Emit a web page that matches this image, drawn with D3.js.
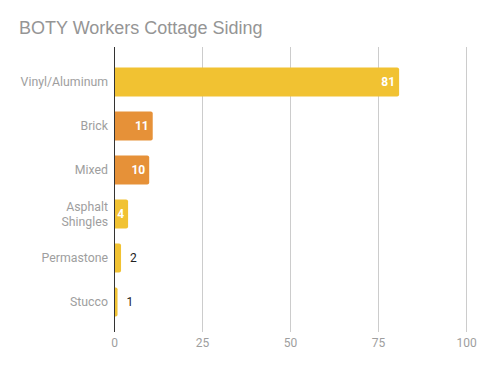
<!DOCTYPE html>
<html>
<head>
<meta charset="utf-8">
<script src="https://cdn.jsdelivr.net/npm/d3@7"></script>
<style>
  body { margin: 0; background: #fff; }
  svg { font-family: Roboto, sans-serif; }
</style>
</head>
<body>
<div id="chart"></div>
<script>
// data
let categories = ['Vinyl/Aluminum', 'Brick', 'Mixed', 'Asphalt Shingles', 'Permastone', 'Stucco'];
let values = [81, 11, 10, 4, 2, 1];
let barColors = ['#f1c232', '#e69138', '#e69138', '#f1c232', '#f1c232', '#f1c232'];
let xTicks = [0, 25, 50, 75, 100];

let width = 485, height = 371;
let margin = { top: 60, right: 19, bottom: 47, left: 114 };

let svg = d3.select("#chart")
    .append("svg")
    .attr("width", width)
    .attr("height", height);

// title
svg.append("text")
    .attr("x", 19)
    .attr("y", 34)
    .style("font-family", "'Liberation Sans', Arial, sans-serif")
    .style("font-size", "18px")
    .style("fill", "#959595")
    .text("BOTY Workers Cottage Siding");

const x = d3.scaleLinear()
    .domain([0, 100])
    .range([margin.left, width - margin.right]);

const y = d3.scaleBand()
    .domain(categories)
    .range([margin.top, height - margin.bottom])
    .paddingInner(0.34)
    .paddingOuter(0.17);

// gridlines
svg.append("g")
    .selectAll("line")
    .data(xTicks.filter(d => d > 0))
    .enter().append("line")
    .attr("x1", d => Math.round(x(d)) + 0.5)
    .attr("x2", d => Math.round(x(d)) + 0.5)
    .attr("y1", 47)
    .attr("y2", 332)
    .attr("stroke", "#cccccc")
    .attr("stroke-width", 1);

// x tick labels
svg.append("g")
    .attr("transform", "translate(0,332)")
    .call(d3.axisBottom(x).tickValues(xTicks).tickSize(0).tickPadding(6))
    .call(g => g.select(".domain").remove())
    .selectAll("text")
    .style("font-size", "12px")
    .style("font-family", "Roboto, sans-serif")
    .style("fill", "#9e9e9e");

// bars
function barPath(d, i) {
    let x0 = x(0), x1 = x(d), y0 = y(categories[i]), h = y.bandwidth();
    let r = Math.min(2, (x1 - x0) / 2);
    return "M" + x0 + "," + y0 +
        "H" + (x1 - r) + "Q" + x1 + "," + y0 + " " + x1 + "," + (y0 + r) +
        "V" + (y0 + h - r) + "Q" + x1 + "," + (y0 + h) + " " + (x1 - r) + "," + (y0 + h) +
        "H" + x0 + "Z";
}

svg.append("g")
    .selectAll("path")
    .data(values)
    .enter().append("path")
    .attr("d", barPath)
    .attr("fill", (d, i) => barColors[i]);

// axis line at zero
svg.append("line")
    .attr("x1", Math.round(x(0)) + 0.5)
    .attr("x2", Math.round(x(0)) + 0.5)
    .attr("y1", 47)
    .attr("y2", 332)
    .attr("stroke", "#333333")
    .attr("stroke-width", 1);

// category labels
let yl = svg.append("g")
    .selectAll("text")
    .data(categories)
    .enter().append("text")
    .attr("x", 108)
    .attr("y", d => y(d) + y.bandwidth() / 2)
    .attr("text-anchor", "end")
    .style("font-size", "12.3px")
    .style("fill", "#9e9e9e");

yl.each(function(d) {
    let t = d3.select(this);
    let parts = d == 'Asphalt Shingles' ? ['Asphalt', 'Shingles'] : [d];
    let lh = 15;
    parts.forEach(function(p, k) {
        t.append("tspan")
            .attr("x", 108)
            .attr("dy", k == 0 ? ((-(parts.length - 1) * lh / 2) + 4) : lh)
            .text(p);
    });
});

// value labels
svg.append("g")
    .selectAll("text")
    .data(values)
    .enter().append("text")
    .attr("x", d => d >= 4 ? x(d) - 4 : x(d) + 9)
    .attr("y", (d, i) => y(categories[i]) + y.bandwidth() / 2 + 4)
    .attr("text-anchor", d => d >= 4 ? "end" : "start")
    .style("font-size", "12px")
    .style("font-weight", d => d >= 4 ? "bold" : "normal")
    .style("fill", d => d >= 4 ? "#ffffff" : "#222222")
    .text(d => d);
</script>
</body>
</html>
